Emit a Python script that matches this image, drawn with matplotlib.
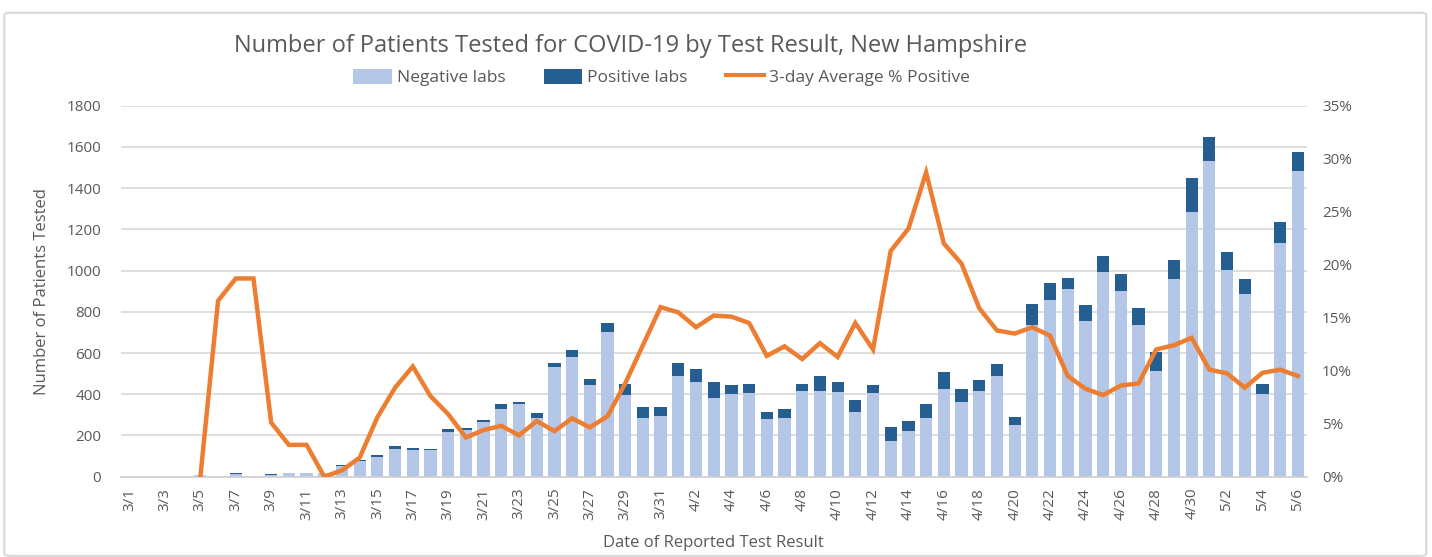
import matplotlib
matplotlib.use("Agg")
import numpy as np
import matplotlib.pyplot as plt
from matplotlib.patches import Patch, FancyBboxPatch
from matplotlib.lines import Line2D
from matplotlib.ticker import FuncFormatter

plt.rcParams['font.family'] = ['Open Sans', 'DejaVu Sans']

# dates 3/1 .. 5/6
dates = [f"3/{d}" for d in range(1, 32)] + [f"4/{d}" for d in range(1, 31)] + [f"5/{d}" for d in range(1, 7)]

negative = [0, 0, 0, 0, 8, 0, 12, 0, 10, 16, 16, 18, 52, 76, 94, 136, 129, 131,
            217, 227, 264, 330, 354, 283, 532, 583, 445, 701, 396, 285, 294,
            487, 460, 380, 400, 405, 280, 285, 417, 417, 413, 312, 408, 175, 222,
            285, 426, 362, 417, 490, 249, 738, 856, 911, 757, 994, 903, 738, 515,
            961, 1286, 1531, 1003, 885, 401, 1133, 1481]
positive = [0, 0, 0, 0, 0, 0, 5, 0, 3, 0, 0, 1, 5, 5, 10, 13, 10, 3,
            14, 9, 9, 21, 7, 26, 20, 32, 27, 47, 54, 55, 46,
            63, 63, 78, 45, 45, 32, 42, 33, 72, 47, 60, 37, 68, 50,
            69, 84, 65, 51, 55, 41, 100, 84, 55, 76, 79, 79, 82, 89,
            92, 161, 116, 86, 73, 47, 103, 93]
pct_avg = [np.nan, np.nan, np.nan, np.nan, 0.0, 16.6, 18.7, 18.7, 5.1, 3.0, 3.0, 0.0,
           0.6, 1.8, 5.6, 8.4, 10.4, 7.6, 5.9, 3.7, 4.4, 4.8, 3.9, 5.25, 4.3,
           5.5, 4.65, 5.7, 8.8, 12.4, 16.0, 15.5, 14.1, 15.2, 15.1, 14.5, 11.4,
           12.3, 11.1, 12.6, 11.3, 14.5, 12.0, 21.3, 23.4, 28.7, 22.0, 20.1, 15.9,
           13.8, 13.5, 14.1, 13.3, 9.5, 8.3, 7.7, 8.6, 8.8, 12.0, 12.4, 13.1,
           10.1, 9.75, 8.4, 9.8, 10.1, 9.5]

neg_color = "#B4C7E7"
pos_color = "#255E91"
line_color = "#ED7D31"
text_color = "#595959"

fig = plt.figure(figsize=(14.32, 5.57), dpi=100)

# outer chart frame (outline only)
frame = FancyBboxPatch((0.003, 0.002), 0.993, 0.975, boxstyle="round,pad=0,rounding_size=0.004",
                       transform=fig.transFigure, facecolor="none", edgecolor="#d9d9d9",
                       linewidth=1.5)
fig.patches.append(frame)

ax = fig.add_axes([0.0843, 0.1442, 0.8282, 0.666])
x = np.arange(len(dates))
ax.bar(x, negative, width=0.69, color=neg_color, zorder=2)
ax.bar(x, positive, width=0.69, bottom=negative, color=pos_color, zorder=2)

ax.set_xlim(-0.5, len(dates) - 0.5)
ax.set_ylim(0, 1800)
ax.set_yticks(range(0, 1801, 200))
ax.yaxis.grid(True, color="#d9d9d9", linewidth=1.2, zorder=0)
ax.set_axisbelow(True)
for s in ["top", "right", "left"]:
    ax.spines[s].set_visible(False)
ax.spines["bottom"].set_color("#d0d0d0")
ax.spines["bottom"].set_linewidth(1.2)
ax.tick_params(axis="y", length=0, labelsize=11, colors=text_color, pad=14)
ax.tick_params(axis="x", length=0, labelsize=11, colors=text_color, pad=8)
ax.set_xticks(x[::2])
ax.set_xticklabels(dates[::2], rotation=90)
ax.set_ylabel("Number of Patients Tested", fontsize=12, color=text_color, labelpad=12)
ax.set_xlabel("Date of Reported Test Result", fontsize=12, color=text_color, labelpad=11)

ax2 = ax.twinx()
ax2.plot(x, pct_avg, color=line_color, linewidth=3.2, solid_joinstyle="miter", zorder=3)
ax2.set_ylim(0, 35)
ax2.set_yticks(range(0, 36, 5))
ax2.yaxis.set_major_formatter(FuncFormatter(lambda v, p: f"{int(v)}%"))
ax2.tick_params(axis="y", length=0, labelsize=11, colors=text_color, pad=11)
for s in ax2.spines.values():
    s.set_visible(False)

fig.text(0.44, 0.918, "Number of Patients Tested for COVID-19 by Test Result, New Hampshire",
         ha="center", va="center", fontsize=17, color=text_color)

handles = [Patch(facecolor=neg_color, label="Negative labs"),
           Patch(facecolor=pos_color, label="Positive labs"),
           Line2D([0], [0], color=line_color, linewidth=3, label="3-day Average % Positive")]
fig.legend(handles=handles, loc="center", bbox_to_anchor=(0.462, 0.861), ncol=3, frameon=False,
           fontsize=12.5, labelcolor=text_color, handlelength=2.2, handleheight=1.0,
           columnspacing=2.2, handletextpad=0.3)

fig.savefig("out.png", dpi=100)
